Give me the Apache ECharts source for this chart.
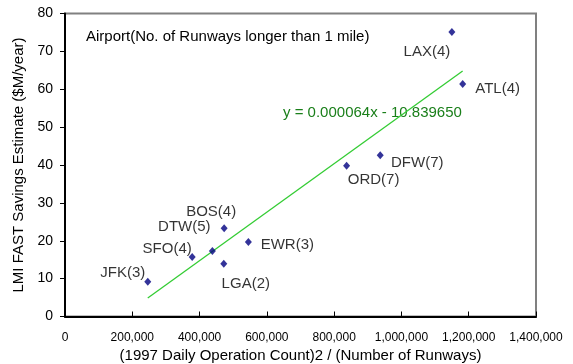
<!DOCTYPE html>
<html>
<head>
<meta charset="utf-8">
<script src="https://cdn.jsdelivr.net/npm/echarts@6/dist/echarts.min.js"></script>
<style>html,body{margin:0;padding:0;background:#fff}#c{width:573px;height:364px}</style>
</head>
<body>
<div id="c"></div>
<script>
// Data
var airports = ['LAX(4)', 'ATL(4)', 'DFW(7)', 'ORD(7)', 'BOS(4)', 'DTW(5)', 'SFO(4)', 'LGA(2)', 'EWR(3)', 'JFK(3)'];
var opsPerRunway = [1150000, 1182000, 937000, 837000, 473000, 438000, 378000, 472000, 545000, 246000];
var savings = [75.1, 61.4, 42.6, 39.8, 23.3, 17.3, 15.7, 13.9, 19.7, 9.2];
var trendSlope = 0.000064;
var trendIntercept = -10.839650;
var xTicks = [0, 200000, 400000, 600000, 800000, 1000000, 1200000, 1400000];
var yTicks = [0, 10, 20, 30, 40, 50, 60, 70, 80];

// Label placement (style only)
var labelOffsets = [[-25, 20], [35, 5], [37, 8], [27, 14], [-13, -16], [-28, -24], [-25, -8], [22, 20], [39, 3], [-25, -9]];

var FONT = 'Arial, "Liberation Sans", sans-serif';
var points = airports.map(function (n, i) {
  return { name: n, value: [opsPerRunway[i], savings[i]], label: { offset: labelOffsets[i] } };
});
var xMin = Math.min.apply(null, opsPerRunway), xMax = Math.max.apply(null, opsPerRunway);
var trend = [[xMin, trendSlope * xMin + trendIntercept], [xMax, trendSlope * xMax + trendIntercept]];

function fmt(v) { return String(v).replace(/\B(?=(\d{3})+(?!\d))/g, ','); }

var chart = echarts.init(document.getElementById('c'), null, { renderer: 'canvas' });
chart.setOption({
  animation: false,
  backgroundColor: '#fff',
  grid: { left: 65, top: 13.5, right: 37, bottom: 47.5, containLabel: false, outerBoundsMode: 'none', show: true, borderColor: '#808080', borderWidth: 2, backgroundColor: 'transparent' },
  xAxis: {
    type: 'value', min: xTicks[0], max: xTicks[xTicks.length - 1], interval: xTicks[1] - xTicks[0],
    name: '(1997 Daily Operation Count)2 / (Number of Runways)', nameLocation: 'middle', nameGap: 29,
    nameTextStyle: { fontFamily: FONT, fontSize: 15, color: '#000' },
    axisLine: { lineStyle: { color: '#000', width: 2 } },
    axisTick: { inside: true, length: 5, lineStyle: { color: '#000', width: 1 } },
    axisLabel: { fontFamily: FONT, fontSize: 12, color: '#000', margin: 15, formatter: fmt },
    splitLine: { show: false }
  },
  yAxis: {
    type: 'value', min: yTicks[0], max: yTicks[yTicks.length - 1], interval: yTicks[1] - yTicks[0],
    name: 'LMI FAST Savings Estimate ($M/year)', nameLocation: 'middle', nameGap: 38,
    nameTextStyle: { fontFamily: FONT, fontSize: 15, color: '#000' },
    axisLine: { show: true, lineStyle: { color: '#000', width: 2 } },
    axisTick: { show: true, inside: false, length: 5, lineStyle: { color: '#000', width: 1 } },
    axisLabel: { fontFamily: FONT, fontSize: 14, color: '#000', margin: 12 },
    splitLine: { show: false }
  },
  series: [
    {
      type: 'line', data: trend, symbol: 'none', silent: true,
      lineStyle: { color: '#33cc33', width: 1.3 }, z: 2
    },
    {
      type: 'scatter', data: points, symbol: 'diamond', symbolSize: [7, 8],
      itemStyle: { color: '#000080' }, z: 3,
      label: { show: true, position: 'inside', formatter: '{b}', fontFamily: FONT, fontSize: 15, color: '#000', align: 'center', verticalAlign: 'middle' }
    }
  ],
  graphic: [
    { type: 'text', left: 86, top: 29, style: { text: 'Airport(No. of Runways longer than 1 mile)', font: '15px ' + FONT, fill: '#000' } },
    { type: 'text', left: 283, top: 105, style: { text: 'y = 0.000064x - 10.839650', font: '15px ' + FONT, fill: '#1a7f1a' } }
  ]
});
</script>
</body>
</html>
